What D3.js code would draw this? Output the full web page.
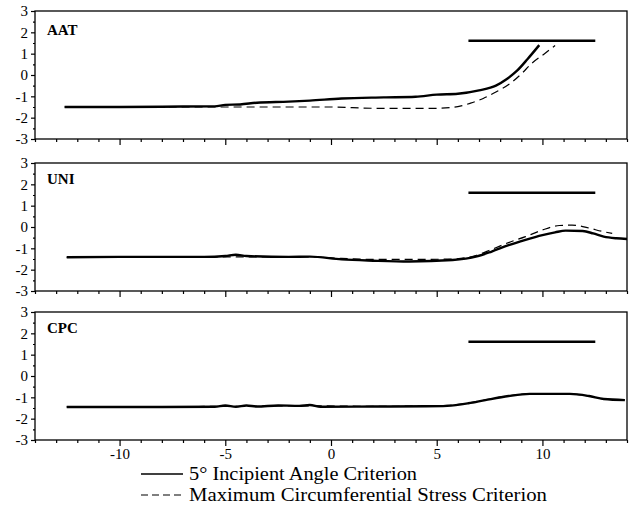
<!DOCTYPE html>
<html>
<head>
<meta charset="utf-8">
<script src="https://cdn.jsdelivr.net/npm/d3@7"></script>
<style>
  body { margin: 0; background: #fff; }
  svg text { font-family: "Liberation Serif", "Times New Roman", Times, "DejaVu Serif", "Noto Serif", serif; fill: #000; }
</style>
</head>
<body>
<div id="chart"></div>
<script>
// panel names
const panelNames = ["AAT", "UNI", "CPC"];

// [x, y] pairs
const aatSolid = [[-12.6,-1.5],[-10,-1.5],[-7,-1.48],[-5.5,-1.47],[-5,-1.4],[-4.3,-1.38],[-3.5,-1.3],[-2,-1.25],[-1,-1.2],[0.5,-1.1],[2.5,-1.05],[4,-1.02],[5,-0.92],[6,-0.88],[7,-0.72],[7.8,-0.5],[8.3,-0.2],[8.8,0.2],[9.3,0.75],[9.85,1.4]];
const aatDashed = [[-12.6,-1.5],[-5,-1.5],[0,-1.5],[2,-1.56],[5,-1.56],[6,-1.48],[6.6,-1.32],[7.2,-1.1],[7.8,-0.8],[8.5,-0.38],[9,0.05],[9.5,0.55],[10.1,1.0],[10.6,1.38]];

const uniSolid = [[-12.5,-1.42],[-10,-1.4],[-6,-1.4],[-5,-1.36],[-4.5,-1.3],[-4,-1.36],[-2,-1.4],[-1,-1.39],[0.5,-1.52],[2,-1.58],[3.7,-1.62],[5.75,-1.55],[6.9,-1.38],[7.6,-1.15],[8.4,-0.85],[9.2,-0.6],[10,-0.38],[10.6,-0.25],[11.1,-0.17],[11.9,-0.19],[12.4,-0.3],[12.9,-0.45],[13.5,-0.53],[14,-0.56]];
const uniDashed = [[-12.5,-1.42],[-6,-1.4],[-1,-1.4],[0.5,-1.47],[2,-1.52],[4,-1.52],[5.7,-1.5],[6.8,-1.35],[7.6,-1.05],[8.4,-0.73],[9.2,-0.45],[10,-0.14],[10.8,0.07],[11.4,0.09],[12.2,-0.05],[12.8,-0.2],[13.3,-0.3]];

const cpcSolid = [[-12.5,-1.45],[-8,-1.45],[-5.5,-1.44],[-5,-1.38],[-4.5,-1.44],[-4,-1.38],[-3.5,-1.43],[-2.5,-1.38],[-1.5,-1.4],[-1,-1.36],[-0.5,-1.44],[2,-1.43],[4.5,-1.42],[5.5,-1.4],[6.5,-1.28],[7.3,-1.13],[8.4,-0.94],[9.4,-0.84],[11.3,-0.84],[12.2,-0.94],[12.9,-1.08],[13.9,-1.13]];
const cpcDashed = [[-12.5,-1.45],[-8,-1.44],[-5,-1.42],[-1,-1.4],[2,-1.42],[4.5,-1.41],[5.5,-1.38],[6.5,-1.27],[7.3,-1.12],[8.4,-0.93],[9.4,-0.83],[11.3,-0.84],[12.2,-0.95],[12.9,-1.08],[13.9,-1.12]];

// the horizontal bar in every panel
const barX = [6.5, 12.5];
const barY = 1.6;

const xTickLabels = [-10, -5, 0, 5, 10];
const yTickLabels = [-3, -2, -1, 0, 1, 2, 3];

const legendLabels = ["5\u00b0 Incipient Angle Criterion", "Maximum Circumferential Stress Criterion"];

const series = [
  { solid: aatSolid, dashed: aatDashed },
  { solid: uniSolid, dashed: uniDashed },
  { solid: cpcSolid, dashed: cpcDashed }
];

const width = 631, height = 511;
const left = 35, right = 627;
const panelTops = [11, 163, 312];
const panelH = 128;
const serif = "'Liberation Serif', 'Times New Roman', Times, 'DejaVu Serif', serif";

const svg = d3.select("#chart").append("svg")
  .attr("width", width)
  .attr("height", height);

const x = d3.scaleLinear().domain([-14, 14]).range([left, right]);

panelNames.forEach((name, i) => {
  const top = panelTops[i];
  const y = d3.scaleLinear().domain([-3, 3]).range([top + panelH, top]);
  const g = svg.append("g");

  // frame
  g.append("rect")
    .attr("x", left).attr("y", top)
    .attr("width", right - left).attr("height", panelH)
    .attr("fill", "none").attr("stroke", "#000").attr("stroke-width", 1.3);

  // x ticks: minor every 1, major every 5
  const xMinor = g.append("g").attr("transform", `translate(0,${top + panelH})`)
    .call(d3.axisBottom(x).tickValues(d3.range(-14, 15).filter(v => v % 5 !== 0)).tickSize(3).tickFormat(""));
  xMinor.select(".domain").remove();
  const xMajor = g.append("g").attr("transform", `translate(0,${top + panelH})`)
    .call(d3.axisBottom(x).tickValues(xTickLabels).tickSize(6).tickPadding(2)
      .tickFormat(i === 2 ? d => String(d) : () => ""));
  xMajor.select(".domain").remove();
  xMajor.attr("font-family", serif);
  xMajor.selectAll("text").attr("font-size", 15).attr("dy", "0.75em");

  // y ticks
  const yMinor = g.append("g").attr("transform", `translate(${left},0)`)
    .call(d3.axisLeft(y).tickValues(d3.range(-2.5, 3, 1)).tickSize(2).tickFormat(""));
  yMinor.select(".domain").remove();
  const yMajor = g.append("g").attr("transform", `translate(${left},0)`)
    .call(d3.axisLeft(y).tickValues(yTickLabels).tickSize(4).tickPadding(3).tickFormat(d => String(d)));
  yMajor.select(".domain").remove();
  yMajor.attr("font-family", serif);
  yMajor.selectAll("text").attr("font-size", 15);
  g.selectAll(".tick line").attr("stroke-width", 1.2);

  // panel label
  g.append("text")
    .attr("x", left + 12).attr("y", top + (i === 0 ? 24 : 21))
    .attr("font-size", 15).attr("font-weight", "bold")
    .text(name);

  const line = d3.line().x(d => x(d[0])).y(d => y(d[1])).curve(d3.curveMonotoneX);

  g.append("path")
    .attr("d", line(series[i].dashed))
    .attr("fill", "none").attr("stroke", "#000")
    .attr("stroke-width", 1.2).attr("stroke-dasharray", "8,5");

  g.append("path")
    .attr("d", line(series[i].solid))
    .attr("fill", "none").attr("stroke", "#000")
    .attr("stroke-width", 2.4);

  g.append("line")
    .attr("x1", x(barX[0])).attr("x2", x(barX[1]))
    .attr("y1", y(barY)).attr("y2", y(barY))
    .attr("stroke", "#000").attr("stroke-width", 2.5);
});

// legend
const legendWidths = [228, 358];
const legend = svg.append("g");
legendLabels.forEach((label, i) => {
  const ly = 474 + i * 21;
  legend.append("line")
    .attr("x1", 141).attr("x2", 183)
    .attr("y1", ly).attr("y2", ly)
    .attr("stroke", "#000")
    .attr("stroke-width", i === 0 ? 1.5 : 1.2)
    .attr("stroke-dasharray", i === 0 ? null : "7,4");
  legend.append("text")
    .attr("x", 189).attr("y", ly + 6)
    .attr("font-size", 18.5)
    .attr("textLength", legendWidths[i])
    .attr("lengthAdjust", "spacingAndGlyphs")
    .text(label);
});
</script>
</body>
</html>
